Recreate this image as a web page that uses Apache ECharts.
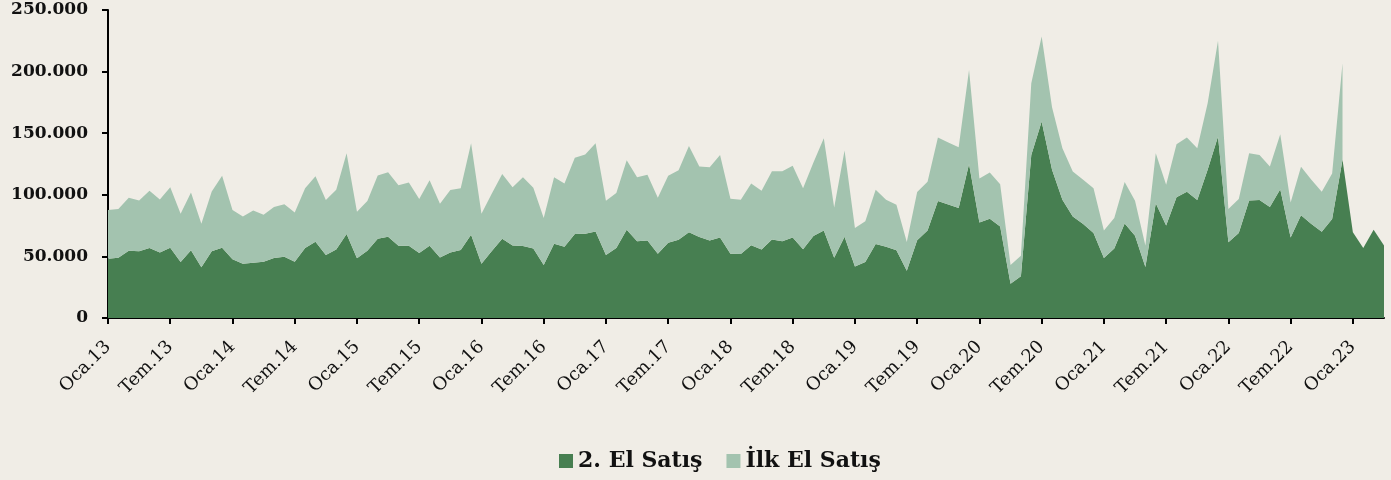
<!DOCTYPE html>
<html>
<head>
<meta charset="utf-8">
<script src="https://cdn.jsdelivr.net/npm/echarts@6/dist/echarts.min.js"></script>
<style>
html,body{margin:0;padding:0;background:#f0ede6;}
#chart{width:1391px;height:480px;}
</style>
</head>
<body>
<div id="chart"></div>
<script>
const monthNames = ["Oca","Şub","Mar","Nis","May","Haz","Tem","Ağu","Eyl","Eki","Kas","Ara"];
const years = ["13","14","15","16","17","18","19","20","21","22","23"];
const categories = [];
years.forEach(y => monthNames.forEach(m => categories.push(m + "." + y)));
categories.length = 124; // Oca.13 – Nis.23

const ikinciElSatis = [
48100,48900,54600,54100,56800,53200,57000,45400,54900,41100,54100,57000,
47600,44100,44900,45700,48600,49700,45700,56800,61900,51100,55700,68100,
48400,54600,64300,65900,58600,58600,52700,58600,49200,53200,55100,67600,
44100,54300,64300,58900,58400,56500,43000,60300,57800,68100,68400,70300,
51100,56800,71600,62200,63000,52200,61100,63500,69700,65700,63000,65400,
52200,51900,59000,55700,63800,62200,65400,55900,66500,71100,48900,65900,
41900,45400,60000,57800,54900,38400,63200,71100,94900,92200,89200,124900,
77600,80500,74300,27800,33800,132400,159500,120300,95900,82400,76200,68900,
48600,56500,76800,66800,41400,93200,75100,98100,102400,95700,120300,147300,
61400,68900,95400,95700,90000,104600,65400,83500,76200,70000,80300,128400,
69700,56800,71600,58900
];

const ilkElSatis = [
39500,39500,43000,41300,46400,43000,49200,39200,47000,35400,48600,58400,
40000,38300,42400,38100,41400,42700,40000,48600,53200,44600,48400,65700,
37800,40300,51400,52500,49200,51400,43800,53300,43500,50600,50300,74300,
40500,46800,52500,47300,55900,49200,38100,54000,51400,61900,64300,71600,
44000,44600,56500,52100,53200,45400,54300,56500,70000,57300,59400,67000,
44600,44000,50200,47500,55400,57000,58100,49500,59700,74800,40800,70000,
31100,33200,44100,38100,37000,23200,39000,39400,51600,50200,49400,76500,
35600,37600,34300,15200,16700,58100,68900,50800,41900,36500,36000,36500,
22500,24600,33500,28300,17500,40600,33000,43000,44100,42100,54000,77800,
27000,27600,38400,36700,33000,44600,28400,39200,36000,32400,37000,78400,
null,null,null,null
];

const yTicks = [0,50000,100000,150000,200000,250000];

const serif = '"DejaVu Serif", "Liberation Serif", serif';
const chart = echarts.init(document.getElementById('chart'), null, {renderer:'canvas'});
chart.setOption({
  backgroundColor: '#f0ede6',
  animation: false,
  grid: {left:108, right:7, top:10, bottom:162, containLabel:false},
  legend: {
    top: 445, left: 554,
    itemWidth: 14, itemHeight: 14, itemGap: 24,
    icon: 'rect',
    textStyle: {fontFamily: serif, fontWeight: 'bold', fontSize: 22, color: '#111'},
    data: ['2. El Satış','İlk El Satış']
  },
  xAxis: {
    type: 'category',
    data: categories,
    boundaryGap: false,
    axisLine: {lineStyle: {color:'#000', width:2}},
    axisTick: {show:true, interval:5, length:6, lineStyle:{color:'#000', width:2}},
    axisLabel: {interval:5, rotate:45, fontFamily: serif, fontSize:18, color:'#111', margin:26},
    splitLine: {show:false}
  },
  yAxis: {
    type: 'value',
    min: yTicks[0], max: yTicks[yTicks.length-1], interval: 50000,
    axisLine: {show:true, lineStyle:{color:'#000', width:2}},
    axisTick: {show:true, length:6, lineStyle:{color:'#000', width:2}},
    splitLine: {show:false},
    axisLabel: {
      fontFamily: serif, fontWeight:'bold', fontSize:17, color:'#111', margin:20,
      formatter: v => v.toLocaleString('de-DE')
    }
  },
  series: [
    {
      name: '2. El Satış', type: 'line', stack: 'total',
      data: ikinciElSatis, symbol: 'none', smooth: false,
      lineStyle: {width:0}, itemStyle:{color:'#477f51'},
      areaStyle: {color:'#477f51', opacity:1}
    },
    {
      name: 'İlk El Satış', type: 'line', stack: 'total',
      data: ilkElSatis, symbol: 'none', smooth: false,
      lineStyle: {width:0}, itemStyle:{color:'#a3c3af'},
      areaStyle: {color:'#a3c3af', opacity:1}
    }
  ]
});
</script>
</body>
</html>
